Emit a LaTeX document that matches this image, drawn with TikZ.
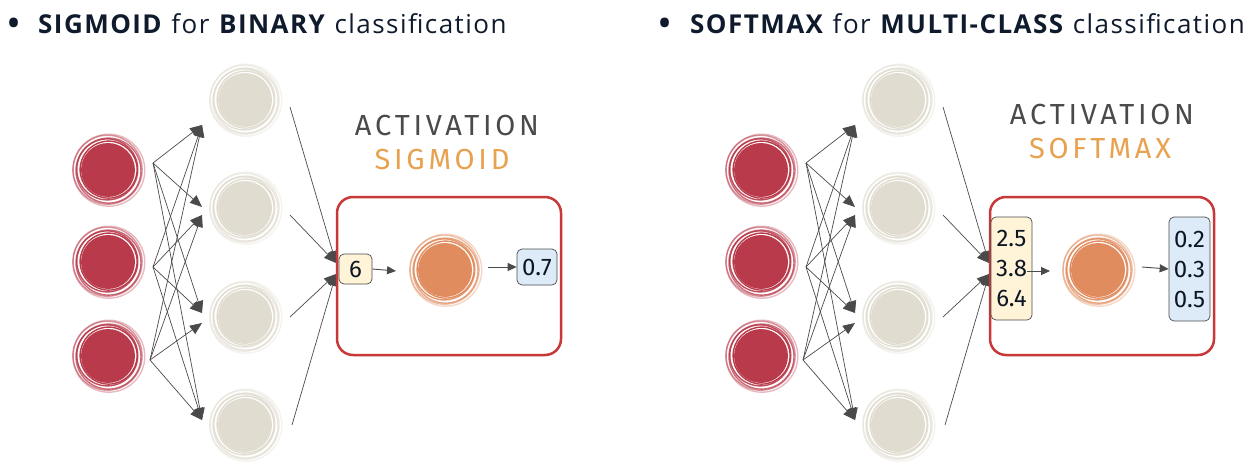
\documentclass[tikz,border=0pt]{standalone}
\usepackage{fontspec}
\setmainfont{Open Sans}
\newfontfamily\titlefont[LetterSpace=5.6]{Open Sans}
\newfontfamily\hand[LetterSpace=13]{Fira Sans}
\newfontfamily\handnum{Fira Sans}
\usetikzlibrary{arrows.meta}
\definecolor{redfill}{HTML}{B83A4B}
\definecolor{beigefill}{HTML}{E0DCD0}
\definecolor{orangefill}{HTML}{E08C5F}
\definecolor{boxred}{HTML}{C83838}
\definecolor{actgray}{HTML}{4A4A4A}
\definecolor{actorange}{HTML}{E8A24F}
\definecolor{navy}{HTML}{0F1B2D}
\definecolor{yelfill}{HTML}{FFF4D8}
\definecolor{bluefill}{HTML}{DDEBF8}
\definecolor{arrowgray}{HTML}{4A4A4A}
\tikzset{
  disk/.style={circle, inner sep=0pt, minimum size=54pt},
  reddisk/.style={disk, fill=redfill},
  beigedisk/.style={disk, fill=beigefill},
  orangedisk/.style={disk, fill=orangefill},
  conn/.style={draw=arrowgray, line width=0.7pt, -{Triangle[length=12pt,width=10pt]}, arrowgray},
  smallconn/.style={draw=arrowgray, line width=0.9pt, -{Triangle[length=9pt,width=8pt]}, arrowgray},
  actbox/.style={draw=boxred, line width=2.5pt, rounded corners=16pt, inner sep=0pt},
  valbox/.style={draw=actgray, line width=0.7pt, rounded corners=5pt, inner sep=0pt, font=\handnum\fontsize{24}{30}\selectfont, text=navy!80!black, align=center},
  title/.style={anchor=base west, inner sep=0pt, text=navy, font=\titlefont\fontsize{26}{30}\selectfont},
  bullet/.style={anchor=base, inner sep=0pt, text=navy, font=\fontsize{40}{40}\selectfont},
  acttext/.style={inner sep=0pt, font=\hand\fontsize{29}{32}\selectfont},
}
\newcommand\sketchrings[2]{%
  \foreach \r/\dx/\dy/\op in {28.5/0.6/0.4/1, 30.5/-0.7/0.6/0.9, 32.5/0.5/-0.6/0.75, 34.5/-0.4/0.3/0.55, 36/0.8/-0.2/0.35}{%
    \draw[#2, line width=1.4pt, opacity=\op] ([shift={(\dx pt,\dy pt)}]#1.center) circle (\r pt);
  }}
\begin{document}
\begin{tikzpicture}[x=1pt,y=-1pt]
\useasboundingbox (0,0) rectangle (1258,468);

% titles
\node[title] (t1) at (38,34) {\textbf{SIGMOID} for \textbf{BINARY} classification};
\node[bullet] (b1) at (14,38) {\textbullet};
\node[title] (t2) at (690,34) {\textbf{SOFTMAX} for \textbf{MULTI-CLASS} classification};
\node[bullet] (b2) at (665,38) {\textbullet};

\foreach \p/\dx in {L/0, R/653}{
  % input layer
  \node[reddisk] (\p-r1) at (108+\dx,170) {};
  \node[reddisk] (\p-r2) at (108+\dx,262) {};
  \node[reddisk] (\p-r3) at (108+\dx,356) {};
  % hidden layer
  \node[beigedisk] (\p-h1) at (245+\dx,100) {};
  \node[beigedisk] (\p-h2) at (245+\dx,208) {};
  \node[beigedisk] (\p-h3) at (245+\dx,317) {};
  \node[beigedisk] (\p-h4) at (245+\dx,425) {};
  \foreach \n in {r1,r2,r3}{\sketchrings{\p-\n}{redfill}}
  \foreach \n in {h1,h2,h3,h4}{\sketchrings{\p-\n}{beigefill}}
  % connector end points
  \coordinate (\p-s1) at (153+\dx,163);
  \coordinate (\p-s2) at (153+\dx,267);
  \coordinate (\p-s3) at (150+\dx,360);
  \coordinate (\p-t1) at (202+\dx,125);
  \coordinate (\p-t2a) at (202+\dx,207);
  \coordinate (\p-t2b) at (202+\dx,215);
  \coordinate (\p-t3a) at (202+\dx,313);
  \coordinate (\p-t3b) at (202+\dx,323);
  \coordinate (\p-t4) at (202+\dx,420);
  \draw[conn] (\p-s1) -- (\p-t1);
  \draw[conn] (\p-s1) -- (\p-t2a);
  \draw[conn] (\p-s1) -- (\p-t3a);
  \draw[conn] (\p-s1) -- (\p-t4);
  \draw[conn] (\p-s2) -- (\p-t1);
  \draw[conn] (\p-s2) -- (\p-t2b);
  \draw[conn] (\p-s2) -- (\p-t3a);
  \draw[conn] (\p-s2) -- (\p-t4);
  \draw[conn] (\p-s3) -- (\p-t1);
  \draw[conn] (\p-s3) -- (\p-t2b);
  \draw[conn] (\p-s3) -- (\p-t3b);
  \draw[conn] (\p-s3) -- (\p-t4);
  % hidden to activation
  \coordinate (\p-u1) at (290+\dx,107);
  \coordinate (\p-u2) at (290+\dx,215);
  \coordinate (\p-u3) at (290+\dx,317);
  \coordinate (\p-u4) at (292+\dx,425);
  \coordinate (\p-ia) at (336+\dx,263);
  \coordinate (\p-ib) at (336+\dx,274);
  \draw[conn] (\p-u1) -- (\p-ia);
  \draw[conn] (\p-u2) -- (\p-ia);
  \draw[conn] (\p-u3) -- (\p-ib);
  \draw[conn] (\p-u4) -- (\p-ib);
  % activation box
  \node[actbox, minimum width=224pt, minimum height=158pt] (\p-box) at (449+\dx,276) {};
  \node[orangedisk] (\p-o) at (445+\dx,270) {};
  \sketchrings{\p-o}{orangefill}
}

% left activation contents
\node[valbox, fill=yelfill, minimum width=33pt, minimum height=30pt] (L-in) at (355.5,269) {6};
\node[valbox, fill=bluefill, minimum width=40pt, minimum height=36pt] (L-out) at (537,267) {0.7};
\coordinate (L-a0e) at (396,271);
\draw[smallconn] (L-in.east) -- (L-a0e);
\coordinate (L-a1) at (488,267);
\draw[smallconn] (L-a1) -- (L-out.west);
\node[acttext, text=actgray] (L-act) at (447,126) {ACTIVATION};
\node[acttext, text=actorange] (L-sig) at (442,160) {SIGMOID};

% right activation contents
\node[valbox, fill=yelfill, minimum width=41pt, minimum height=103pt] (R-in) at (1011.5,268.5) {2.5\\3.8\\6.4};
\node[valbox, fill=bluefill, minimum width=41pt, minimum height=104pt] (R-out) at (1189.5,269) {0.2\\0.3\\0.5};
\coordinate (R-a0) at (1027,271);
\coordinate (R-a0e) at (1050,271);
\draw[smallconn] (R-a0) -- (R-a0e);
\coordinate (R-a1) at (1142,267);
\draw[smallconn] (R-a1) -- (R-out.west);
\node[acttext, text=actgray] (R-act) at (1102,115) {ACTIVATION};
\node[acttext, text=actorange] (R-sm) at (1100,149) {SOFTMAX};
\end{tikzpicture}
\end{document}
